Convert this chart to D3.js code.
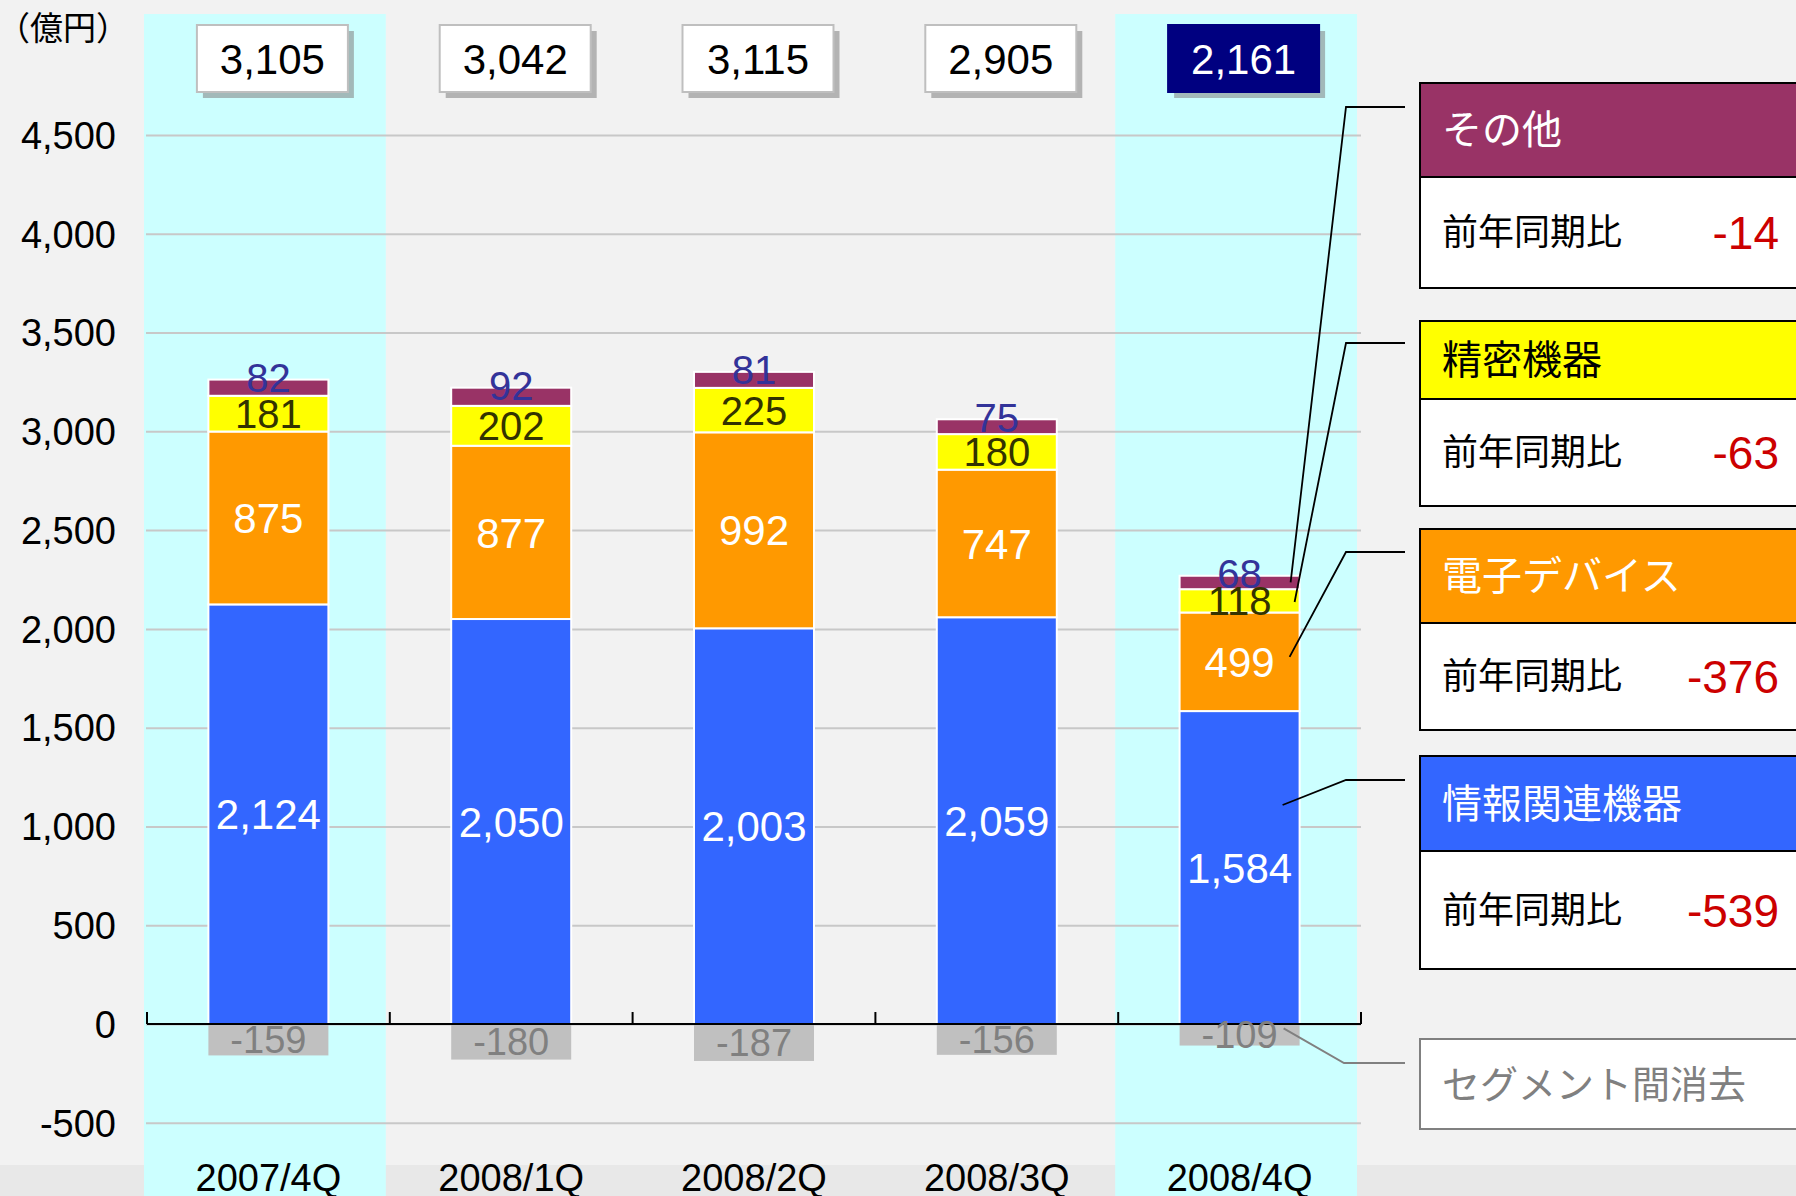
<!DOCTYPE html>
<html><head><meta charset="utf-8">
<script src="https://cdn.jsdelivr.net/npm/d3@7"></script>
<style>
body{margin:0;background:#f2f2f2;}
svg{display:block;}
text{font-family:"Liberation Sans",Arial,sans-serif;}
.jp{font-family:"Noto Sans CJK JP","Noto Sans",sans-serif;}
</style></head><body>
<svg id="c" width="1796" height="1196"></svg>
<script>
// ---- data ----
const categories = ["2007/4Q","2008/1Q","2008/2Q","2008/3Q","2008/4Q"];
const info      = [2124, 2050, 2003, 2059, 1584];   // 情報関連機器
const device    = [875, 877, 992, 747, 499];        // 電子デバイス
const precision = [181, 202, 225, 180, 118];        // 精密機器
const other     = [82, 92, 81, 75, 68];             // その他
const elim      = [-159, -180, -187, -156, -109];   // セグメント間消去
const totals    = [3105, 3042, 3115, 2905, 2161];
const yTicks    = [-500, 0, 500, 1000, 1500, 2000, 2500, 3000, 3500, 4000, 4500];
const highlighted = ["2007/4Q", "2008/4Q"];
const legendNames = ["その他", "精密機器", "電子デバイス", "情報関連機器"];
const legendKeys  = ["other", "precision", "device", "info"];
const yoyValues   = [-14, -63, -376, -539];
const yoyLabel = "前年同期比";
const elimName = "セグメント間消去";
const unitLabel = "（億円）";

// ---- styles ----
const colors = {info:"#3366ff", device:"#ff9900", precision:"#ffff00", other:"#993366"};
const labelColors = {info:"#ffffff", device:"#ffffff", precision:"#333300", other:"#333399"};
const headerText = {info:"#ffffff", device:"#ffffff", precision:"#000000", other:"#ffffff"};

const fmt = d3.formatLocale({decimal:".", thousands:",", grouping:[3], currency:["",""], minus:"-"}).format(",");

const W = 1796, H = 1196;
const svg = d3.select("#c");
svg.append("rect").attr("width", W).attr("height", H).attr("fill", "#f2f2f2");
svg.append("rect").attr("y", 1165).attr("width", W).attr("height", H - 1165).attr("fill", "#e8e8e8");

const x = d3.scaleBand().domain(categories).range([147, 1361]);
const y = d3.scaleLinear().domain([-500, 4500]).range([1122.8, 135]);
const bw = x.bandwidth();
const barW = 120;
const cx = c => x(c) + bw / 2;

// highlight bands
svg.append("g").selectAll("rect").data(highlighted).join("rect")
  .attr("x", d => x(d) - 3).attr("width", bw - 1)
  .attr("y", 14).attr("height", H - 14)
  .attr("fill", "#ccffff");

// grid + y labels
const yAxis = d3.axisLeft(y).tickValues(yTicks).tickFormat(fmt)
  .tickSize(-(1361 - 146)).tickPadding(30);
const gy = svg.append("g").attr("transform", "translate(146,0)").call(yAxis);
gy.select(".domain").remove();
gy.selectAll(".tick line").attr("stroke", "#c8c8c8").attr("stroke-width", 2);
gy.selectAll(".tick text").attr("font-size", 38).attr("fill", "#000")
  .attr("font-family", "'Liberation Sans',Arial,sans-serif").attr("dy", "0.35em");

// stacked bars
const keys = ["info", "device", "precision", "other"];
const rows = categories.map((c, i) => ({cat: c, info: info[i], device: device[i], precision: precision[i], other: other[i]}));
const series = d3.stack().keys(keys)(rows);

const gBars = svg.append("g");
series.forEach(s => {
  gBars.append("g").selectAll("rect").data(s).join("rect")
    .attr("x", d => cx(d.data.cat) - barW / 2).attr("width", barW)
    .attr("y", d => y(d[1])).attr("height", d => y(d[0]) - y(d[1]))
    .attr("fill", colors[s.key]).attr("stroke", "#fff").attr("stroke-width", 2);
});

// negative bars
svg.append("g").selectAll("rect").data(categories).join("rect")
  .attr("x", c => cx(c) - barW / 2).attr("width", barW)
  .attr("y", y(0)).attr("height", (c, i) => y(elim[i]) - y(0))
  .attr("fill", "#c0c0c0");

// zero axis + boundary ticks
const gx = svg.append("g");
gx.append("line").attr("x1", 147).attr("x2", 1361).attr("y1", y(0)).attr("y2", y(0))
  .attr("stroke", "#000").attr("stroke-width", 2);
const bounds = categories.map(c => x(c)).concat([x.range()[1]]);
gx.selectAll("line.t").data(bounds).join("line").attr("class", "t")
  .attr("x1", d => d).attr("x2", d => d).attr("y1", y(0)).attr("y2", y(0) - 12)
  .attr("stroke", "#000").attr("stroke-width", 2);

// bar labels
series.forEach(s => {
  svg.append("g").selectAll("text").data(s).join("text")
    .attr("x", d => cx(d.data.cat))
    .attr("y", d => s.key === "other" ? y(d[1]) - 2 : y((d[0] + d[1]) / 2))
    .attr("dy", "0.36em").attr("text-anchor", "middle")
    .attr("font-size", (s.key === "info" || s.key === "device") ? 42 : 40)
    .attr("fill", labelColors[s.key])
    .text(d => fmt(d[1] - d[0]));
});
svg.append("g").selectAll("text").data(categories).join("text")
  .attr("x", c => cx(c)).attr("y", (c, i) => y(elim[i] / 2)).attr("dy", "0.36em")
  .attr("text-anchor", "middle").attr("font-size", 38).attr("fill", "#808080")
  .text((c, i) => fmt(elim[i]));

// category labels
svg.append("g").selectAll("text").data(categories).join("text")
  .attr("x", c => cx(c)).attr("y", 1191).attr("text-anchor", "middle")
  .attr("font-size", 38).attr("fill", "#000").text(c => c);

// total boxes
const gT = svg.append("g");
categories.forEach((c, i) => {
  const last = i === categories.length - 1;
  const bx = cx(c) + 4 - 75.5;
  gT.append("rect").attr("x", bx + 6).attr("y", 31).attr("width", 151).attr("height", 67)
    .attr("fill", "#808080").attr("opacity", 0.55);
  gT.append("rect").attr("x", bx).attr("y", 25).attr("width", 151).attr("height", 67)
    .attr("fill", last ? "#000080" : "#ffffff")
    .attr("stroke", last ? "#000080" : "#bfbfbf").attr("stroke-width", 2);
  gT.append("text").attr("x", bx + 75.5).attr("y", 58.5).attr("dy", "0.36em")
    .attr("text-anchor", "middle").attr("font-size", 42)
    .attr("fill", last ? "#fff" : "#000").text(fmt(totals[i]));
});

// unit label
svg.append("text").attr("class", "jp").attr("x", -3).attr("y", 28).attr("dy", "0.36em")
  .attr("font-size", 33).attr("fill", "#000").text(unitLabel);

// legend boxes
const legTop = [83, 321, 529, 756], legMid = [177, 399, 623, 851], legBot = [288, 506, 730, 969];
const elbowY = [107, 343, 552, 780];
const leaderDx = [-9, -5, -10, -17], leaderFrac = [0.5, 0.45, 0.55, 0.7];
const lastCat = categories[categories.length - 1];
const lastRight = cx(lastCat) + barW / 2;
const gL = svg.append("g");
legendKeys.forEach((k, i) => {
  gL.append("rect").attr("x", 1420).attr("y", legMid[i]).attr("width", 400).attr("height", legBot[i] - legMid[i])
    .attr("fill", "#fff").attr("stroke", "#000").attr("stroke-width", 2);
  gL.append("rect").attr("x", 1420).attr("y", legTop[i]).attr("width", 400).attr("height", legMid[i] - legTop[i])
    .attr("fill", colors[k]).attr("stroke", "#000").attr("stroke-width", 2);
  gL.append("text").attr("class", "jp").attr("x", 1442).attr("y", (legTop[i] + legMid[i]) / 2).attr("dy", "0.36em")
    .attr("font-size", 40).attr("fill", headerText[k]).text(legendNames[i]);
  gL.append("text").attr("class", "jp").attr("x", 1442).attr("y", (legMid[i] + legBot[i]) / 2).attr("dy", "0.36em")
    .attr("font-size", 36).attr("fill", "#000").text(yoyLabel);
  gL.append("text").attr("x", 1779).attr("y", (legMid[i] + legBot[i]) / 2).attr("dy", "0.36em")
    .attr("text-anchor", "end").attr("font-size", 46).attr("fill", "#cc0000").text(fmt(yoyValues[i]));
  // leader line
  const s = series.find(ss => ss.key === k);
  const d = s[s.length - 1];
  const ey = y(d[0] + (d[1] - d[0]) * leaderFrac[i]);
  gL.append("polyline")
    .attr("points", `1405,${elbowY[i]} 1346,${elbowY[i]} ${lastRight + leaderDx[i]},${ey}`)
    .attr("fill", "none").attr("stroke", "#000").attr("stroke-width", 1.8);
});
// elimination box
gL.append("rect").attr("x", 1420).attr("y", 1039).attr("width", 400).attr("height", 90)
  .attr("fill", "#fff").attr("stroke", "#808080").attr("stroke-width", 2);
gL.append("text").attr("class", "jp").attr("x", 1442).attr("y", 1084).attr("dy", "0.36em")
  .attr("font-size", 38).attr("fill", "#808080").text(elimName);
gL.append("polyline")
  .attr("points", `1405,1063 1344,1063 ${lastRight - 16},${y(elim[elim.length - 1] * 0.2)}`)
  .attr("fill", "none").attr("stroke", "#808080").attr("stroke-width", 2);
</script>
</body></html>
